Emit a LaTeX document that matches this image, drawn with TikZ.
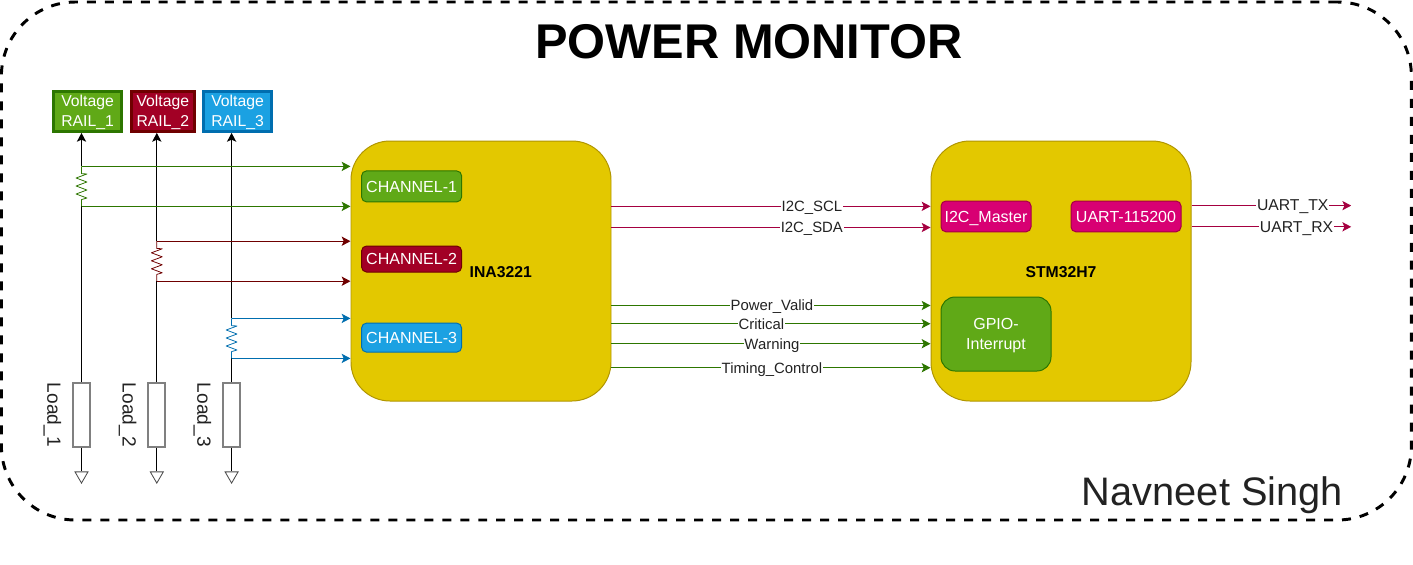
\documentclass[tikz,border=0pt]{standalone}
\usepackage{fontspec}
\setmainfont{Liberation Sans}
\usepackage{xcolor}
\usetikzlibrary{arrows.meta,shapes.geometric}
\definecolor{chipyellow}{HTML}{E3C800}
\definecolor{chipedge}{HTML}{B09500}
\definecolor{railgreen}{HTML}{60A917}
\definecolor{edgegreen}{HTML}{2D7600}
\definecolor{railred}{HTML}{A20025}
\definecolor{edgered}{HTML}{6F0000}
\definecolor{railblue}{HTML}{1BA1E2}
\definecolor{edgeblue}{HTML}{006EAF}
\definecolor{busfill}{HTML}{D80073}
\definecolor{busedge}{HTML}{A50040}
\definecolor{labelgray}{HTML}{222222}
\tikzset{
  shunt/.pic={
    \draw[line width=0.55pt, line join=round] (0,0) -- (0,-.18) -- (.135,-.19) -- (-.135,-.29) -- (.135,-.39) -- (-.135,-.49) -- (.135,-.59) -- (-.135,-.69) -- (.135,-.79) -- (0,-.83) -- (0,-1);
  }
}
\begin{document}
\begin{tikzpicture}[
  >={Stealth[length=2.2mm,width=2.3mm,inset=.5mm]}, line width=0.9pt,
  frame/.style={draw, dashed, line width=2.1pt, dash pattern=on 6.4pt off 6.4pt, rounded corners=1.85cm, minimum width=35.25cm, minimum height=12.95cm, inner sep=0pt},
  rail/.style={draw, line width=2.1pt, minimum height=1cm, inner sep=0pt, align=center, text=white, text depth=1pt, font=\fontsize{11.2}{14.2}\selectfont},
  chip/.style={draw=chipedge, fill=chipyellow, line width=0.7pt, rounded corners=.975cm, minimum width=6.5cm, minimum height=6.5cm, inner sep=0pt},
  chipname/.style={inner sep=0pt, font=\fontsize{11.2}{13}\selectfont\bfseries},
  blk/.style={draw, line width=0.7pt, rounded corners=3.5pt, minimum width=2.5cm, inner sep=0pt, align=center, text=white, text depth=0pt, font=\fontsize{11.4}{14.6}\selectfont},
  load/.style={draw=gray, fill=white, line width=1.3pt, minimum width=.42cm, minimum height=1.6cm, inner sep=0pt},
  loadname/.style={rotate=-90, inner sep=0pt, text=labelgray, font=\fontsize{13.6}{16}\selectfont},
  gnd/.style={draw=black!70, regular polygon, regular polygon sides=3, shape border rotate=180, minimum size=.375cm, inner sep=0pt, line width=0.6pt},
  lbl/.style={fill=white, inner sep=0.6pt, text=labelgray, text height=7.6pt, text depth=0pt, font=\fontsize{10.6}{12}\selectfont},
  lblbig/.style={lbl, font=\fontsize{11.2}{12}\selectfont}]
\useasboundingbox (0,0) rectangle (35.325,-14.1);
\node[frame] (border) at (17.66,-6.525) {};
\node[inner sep=0pt, font=\fontsize{34.7}{40}\selectfont\bfseries] (title) at (18.725,-1.03) {POWER MONITOR};
\node[inner sep=0pt, text=labelgray, font=\fontsize{28.3}{32}\selectfont] (author) at (30.31,-12.38) {Navneet Singh};
% rails
\node[rail, fill=railgreen, draw=edgegreen, minimum width=1.69cm] (rail1) at (2.19,-2.785) {Voltage\\RAIL\_1};
\node[rail, fill=railred, draw=edgered, minimum width=1.57cm]  (rail2) at (4.07,-2.785) {Voltage\\RAIL\_2};
\node[rail, fill=railblue, draw=edgeblue, minimum width=1.69cm] (rail3) at (5.94,-2.785) {Voltage\\RAIL\_3};
% loads
\node[load] (load1) at (2.0375,-10.37) {};
\node[load] (load2) at (3.92,-10.37) {};
\node[load] (load3) at (5.79,-10.37) {};
\node[loadname] (loadname1) at (1.31,-10.37) {Load\_1};
\node[loadname] (loadname2) at (3.19,-10.37) {Load\_2};
\node[loadname] (loadname3) at (5.06,-10.37) {Load\_3};
\node[gnd] (gnd1) at (2.0375,-11.89) {};
\node[gnd] (gnd2) at (3.92,-11.89) {};
\node[gnd] (gnd3) at (5.79,-11.89) {};
% chips
\node[chip] (ina) at (12.025,-6.775) {};
\node[chip] (stm) at (26.525,-6.775) {};
\node[chipname] (inaname) at (12.52,-6.8) {INA3221};
\node[chipname] (stmname) at (26.525,-6.8) {STM32H7};
\node[blk, fill=railgreen, draw=edgegreen, minimum height=.775cm] (ch1) at (10.29,-4.66) {CHANNEL-1};
\node[blk, fill=railred, draw=edgered, minimum height=.65cm]  (ch2) at (10.29,-6.475) {CHANNEL-2};
\node[blk, fill=railblue, draw=edgeblue, minimum height=.725cm] (ch3) at (10.29,-8.44) {CHANNEL-3};
\node[blk, fill=busfill, draw=busedge, minimum width=2.25cm, minimum height=.77cm] (master) at (24.65,-5.41) {I2C\_Master};
\node[blk, fill=busfill, draw=busedge, minimum width=2.75cm, minimum height=.77cm] (uart) at (28.15,-5.41) {UART-115200};
\node[blk, fill=railgreen, draw=edgegreen, rounded corners=10pt, minimum width=2.75cm, minimum height=1.85cm] (gpio) at (24.9,-8.35) {GPIO-\\Interrupt};
% sense taps
\coordinate (s1a) at (2.0375,-4.16);
\coordinate (s1b) at (2.0375,-5.16);
\coordinate (s2a) at (3.92,-6.03);
\coordinate (s2b) at (3.92,-7.03);
\coordinate (s3a) at (5.79,-7.96);
\coordinate (s3b) at (5.79,-8.96);
\draw[->] (s1a) -- (s1a |- rail1.south);
\draw[->] (s2a) -- (s2a |- rail2.south);
\draw[->] (s3a) -- (s3a |- rail3.south);
\draw (s1b) -- (load1.north);
\draw (s2b) -- (load2.north);
\draw (s3b) -- (load3.north);
\draw (load1.south) -- (gnd1.north);
\draw (load2.south) -- (gnd2.north);
\draw (load3.south) -- (gnd3.north);
\pic[edgegreen] at (s1a) {shunt};
\pic[edgered] at (s2a) {shunt};
\pic[edgeblue] at (s3a) {shunt};
\draw[->, edgegreen] (s1a) -- (s1a -| ina.west);
\draw[->, edgegreen] (s1b) -- (s1b -| ina.west);
\draw[->, edgered] (s2a) -- (s2a -| ina.west);
\draw[->, edgered] (s2b) -- (s2b -| ina.west);
\draw[->, edgeblue] (s3a) -- (s3a -| ina.west);
\draw[->, edgeblue] (s3b) -- (s3b -| ina.west);
% buses
\draw[->, busedge] ([yshift=1.617cm]ina.east) -- node[lbl, pos=.628]{I2C\_SCL} ([yshift=1.617cm]stm.west);
\draw[->, busedge] ([yshift=1.0875cm]ina.east) -- node[lbl, pos=.628]{I2C\_SDA} ([yshift=1.0875cm]stm.west);
\draw[->, edgegreen] ([yshift=-.8625cm]ina.east) -- node[lbl, pos=.503]{Power\_Valid} ([yshift=-.8625cm]stm.west);
\draw[->, edgegreen] ([yshift=-1.3175cm]ina.east) -- node[lbl, pos=.47]{Critical} ([yshift=-1.3175cm]stm.west);
\draw[->, edgegreen] ([yshift=-1.8175cm]ina.east) -- node[lbl, pos=.503]{Warning} ([yshift=-1.8175cm]stm.west);
\draw[->, edgegreen] ([yshift=-2.4175cm]ina.east) -- node[lbl, pos=.503]{Timing\_Control} ([yshift=-2.4175cm]stm.west);
\coordinate (txend) at (33.78,-5.14);
\coordinate (rxend) at (33.78,-5.67);
\draw[->, busedge] (stm.east |- txend) -- node[lblbig, pos=.634]{UART\_TX} (txend);
\draw[->, busedge] (stm.east |- rxend) -- node[lblbig, pos=.658]{UART\_RX} (rxend);
\end{tikzpicture}
\end{document}
